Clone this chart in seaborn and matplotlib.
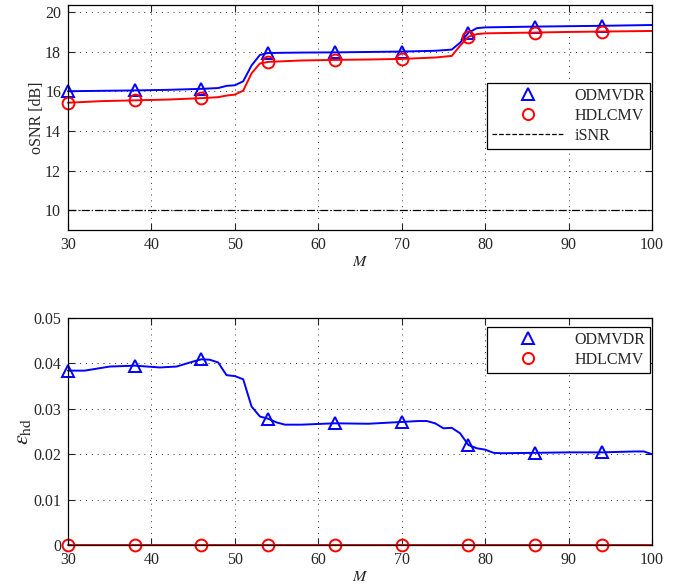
import numpy as np
import matplotlib
matplotlib.use("Agg")
import matplotlib.pyplot as plt
import seaborn as sns
from matplotlib.lines import Line2D
from matplotlib.ticker import MultipleLocator, FuncFormatter

# %%
# data
marker_M = [30, 38, 46, 54, 62, 70, 78, 86, 94]

M_top = [30, 34, 38, 42, 46, 48, 49, 50, 51, 52, 53, 54, 58, 62, 66, 70, 74, 75,
         76, 77, 78, 79, 80, 86, 90, 94, 100]
osnr_odmvdr = [16.00, 16.02, 16.04, 16.07, 16.12, 16.16, 16.27, 16.30, 16.50, 17.30,
               17.83, 17.93, 17.95, 17.96, 17.98, 18.00, 18.04, 18.07, 18.10, 18.45,
               18.95, 19.18, 19.22, 19.26, 19.28, 19.30, 19.34]
osnr_hdlcmv = [15.42, 15.50, 15.54, 15.58, 15.65, 15.70, 15.78, 15.83, 16.03, 16.90,
               17.40, 17.48, 17.55, 17.58, 17.60, 17.63, 17.70, 17.74, 17.78, 18.30,
               18.75, 18.88, 18.92, 18.96, 18.99, 19.01, 19.04]
M_isnr = [30, 100]
isnr = [10, 10]

M_bot = [30, 32, 35, 38, 41, 43, 45, 46, 47, 48, 49, 50, 51, 52, 53, 54, 55, 56, 58,
         62, 66, 70, 72, 73, 74, 75, 76, 77, 78, 79, 80, 81, 82, 86, 90, 94, 98, 99, 100]
ehd_odmvdr = [0.0384, 0.0384, 0.0393, 0.0395, 0.0391, 0.0393, 0.0404, 0.0409, 0.0408,
              0.0402, 0.0374, 0.0372, 0.0365, 0.0305, 0.0283, 0.0278, 0.0270, 0.0265,
              0.0265, 0.0268, 0.0267, 0.0271, 0.0273, 0.0273, 0.0268, 0.0257, 0.0258,
              0.0246, 0.0220, 0.0213, 0.0210, 0.0203, 0.0202, 0.0203, 0.0204, 0.0204,
              0.0206, 0.0206, 0.0200]
M_bot_hd = [30, 38, 46, 54, 62, 70, 78, 86, 94, 100]
ehd_hdlcmv = [0, 0, 0, 0, 0, 0, 0, 0, 0, 0]

# %%
sns.set_style("ticks")
plt.rcParams['font.family'] = ['Liberation Serif', 'DejaVu Serif']
plt.rcParams['mathtext.fontset'] = 'stix'
plt.rcParams['font.size'] = 11.5

fig = plt.figure(figsize=(6.89, 5.87), dpi=100)
ax1 = fig.add_axes([0.0987, 0.6082, 0.8476, 0.3833])
ax2 = fig.add_axes([0.0987, 0.0716, 0.8476, 0.3867])

mk = dict(markerfacecolor='none', markersize=8.5, markeredgewidth=1.4, linewidth=1.4,
          clip_on=False)


def idx(ms):
    return [i for i, m in enumerate(ms) if m in marker_M]


sns.lineplot(x=M_top, y=osnr_odmvdr, ax=ax1, color='blue', marker='^',
             markeredgecolor='blue', markevery=idx(M_top), **mk)
sns.lineplot(x=M_top, y=osnr_hdlcmv, ax=ax1, color='red', marker='o',
             markeredgecolor='red', markevery=idx(M_top), **mk)
sns.lineplot(x=M_isnr, y=isnr, ax=ax1, color='black', linestyle='-.', linewidth=0.9)

sns.lineplot(x=M_bot, y=ehd_odmvdr, ax=ax2, color='blue', marker='^',
             markeredgecolor='blue', markevery=idx(M_bot), **mk)
sns.lineplot(x=M_bot_hd, y=ehd_hdlcmv, ax=ax2, color='red', marker='o',
             markeredgecolor='red', markevery=idx(M_bot_hd), **mk)

ax1.set_ylim(9, 20.35)
ax1.yaxis.set_major_locator(MultipleLocator(2))
ax1.set_ylabel('oSNR [dB]', labelpad=0)
ax2.set_ylim(0, 0.05)
ax2.yaxis.set_major_locator(MultipleLocator(0.01))
ax2.yaxis.set_major_formatter(FuncFormatter(lambda v, p: '0' if abs(v) < 1e-9 else f'{v:.2f}'))
ax2.set_ylabel(r'$\varepsilon_{\rm hd}$', fontsize=16, labelpad=0)

for ax in (ax1, ax2):
    ax.set_xlim(30, 100)
    ax.xaxis.set_major_locator(MultipleLocator(10))
    ax.set_xlabel(r'$M$', labelpad=1)
    ax.grid(True, color='#333333', linestyle=(0, (1, 5)), linewidth=0.7)
    ax.tick_params(direction='in', top=True, right=True, length=5, width=0.8, pad=5)
    for s in ax.spines.values():
        s.set_linewidth(0.9)
        s.set_color('black')

h_od = Line2D([], [], color='blue', marker='^', linestyle='none', markerfacecolor='none',
              markeredgecolor='blue', markersize=8, markeredgewidth=1.4)
h_hd = Line2D([], [], color='red', marker='o', linestyle='none', markerfacecolor='none',
              markeredgecolor='red', markersize=8, markeredgewidth=1.4)
h_is = Line2D([], [], color='black', linestyle='--', linewidth=0.9)

leg_kw = dict(loc='upper right', fancybox=False, edgecolor='black', framealpha=1,
              handlelength=4.6, handletextpad=0.6, borderpad=0.3, labelspacing=0.25,
              borderaxespad=0)
l1 = ax1.legend([h_od, h_hd, h_is], ['ODMVDR', 'HDLCMV', 'iSNR'],
                bbox_to_anchor=(0.997, 0.653), **leg_kw)
l2 = ax2.legend([h_od, h_hd], ['ODMVDR', 'HDLCMV'],
                bbox_to_anchor=(0.997, 0.960), **leg_kw)
for l in (l1, l2):
    l.get_frame().set_linewidth(0.9)

plt.savefig("out.png", dpi=100)
